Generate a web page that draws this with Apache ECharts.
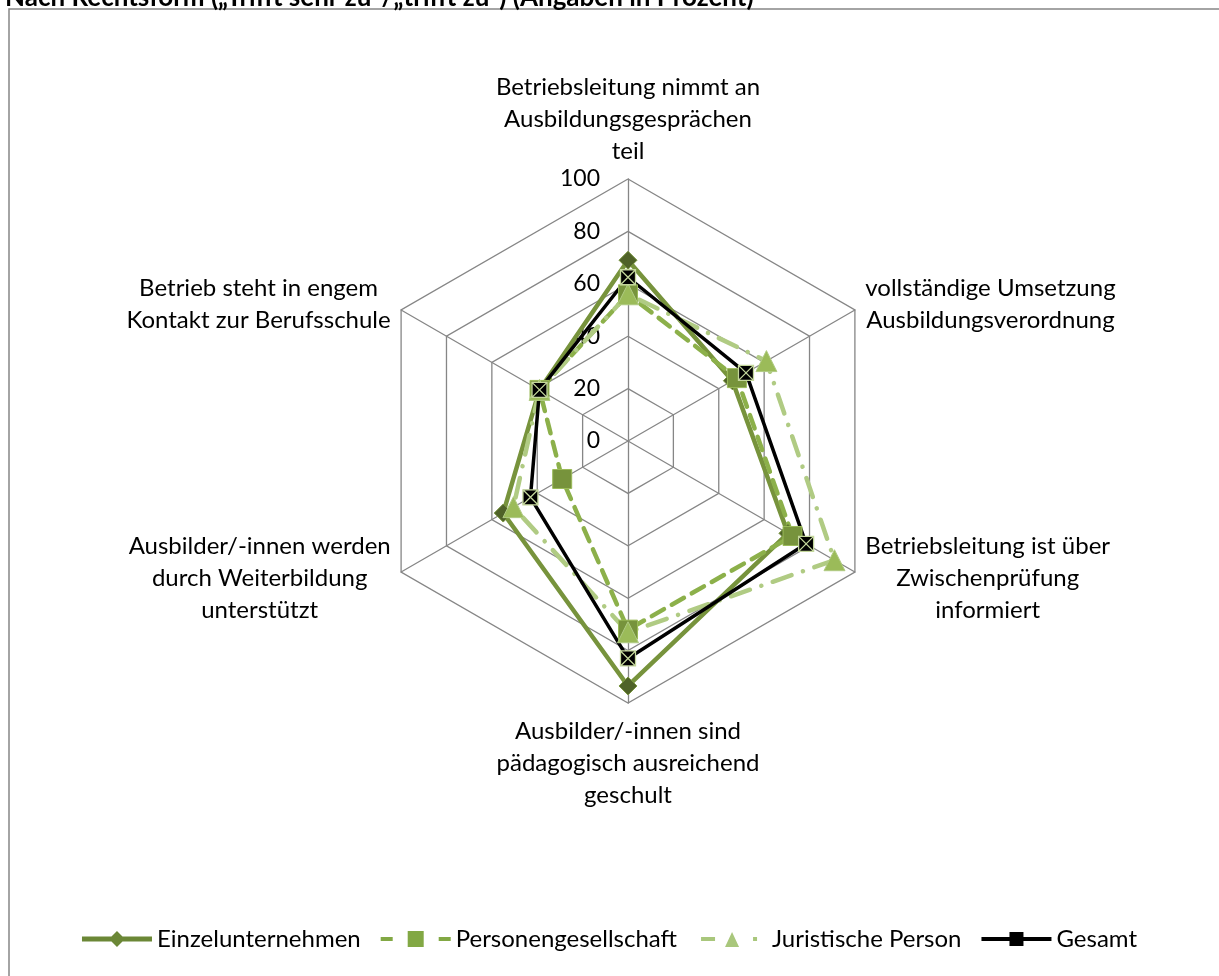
<!DOCTYPE html>
<html><head><meta charset="utf-8">
<script src="https://cdn.jsdelivr.net/npm/echarts@6/dist/echarts.min.js"></script>
<style>html,body{margin:0;padding:0;background:#fff}#c{width:1219px;height:976px}</style>
</head><body><div id="c"></div>
<script>
// Indicators (ECharts radar order: top, then counter-clockwise)
var categories = [
  'Betriebsleitung nimmt an\nAusbildungsgesprächen\nteil',
  'Betrieb steht in engem\nKontakt zur Berufsschule',
  'Ausbilder/-innen werden\ndurch Weiterbildung\nunterstützt',
  'Ausbilder/-innen sind\npädagogisch ausreichend\ngeschult',
  'Betriebsleitung ist über\nZwischenprüfung\ninformiert',
  'vollständige Umsetzung\nAusbildungsverordnung'
];
var seriesNames = ['Einzelunternehmen', 'Personengesellschaft', 'Juristische Person', 'Gesamt'];
var einzelunternehmen    = [69, 39, 55, 93.5, 70.5, 46];
var personengesellschaft = [56, 39, 29, 72, 72.5, 48];
var juristischePerson    = [56, 39, 50.5, 73, 91, 61];
var gesamt               = [62.5, 39, 43, 83, 78.5, 52];
var axisMax = 100;
var titleText = 'Nach Rechtsform („Trifft sehr zu“/„trifft zu“) (Angaben in Prozent)';

var FONT = 'Lato';
var chart = echarts.init(document.getElementById('c'));
var indicators = categories.map(function (n, i) {
  var o = { name: n, min: 0, max: axisMax };
  if (i === 0) o.axisLabel = { show: true };
  return o;
});
var gesamtSymbol = 'path://M0,0L10,0L10,10L0,10Z M0,0L10,10 M10,0L0,10';

// legend icons (line + marker), drawn in a 70x16 box
var iconEinzel = 'path://M0,5.5L70,5.5L70,10.5L0,10.5Z M35,0L43,8L35,16L27,8Z';
var iconPersonen = 'path://M0,6L12,6L12,10L0,10Z M27,0L43,0L43,16L27,16Z M58,6L70,6L70,10L58,10Z';
var iconJur = 'path://M0,0.01L0.01,0.01L0.01,0.02L0,0.02Z M4,6L18,6L18,10L4,10Z M35,1L42,16L28,16Z M56,6L60,6L60,10L56,10Z M69.99,15.98L70,15.98L70,16L69.99,16Z';
var iconGesamt = 'path://M0,6L70,6L70,10L0,10Z M28,1L42,1L42,15L28,15Z M0,0.01L0.01,0.01L0.01,0.02L0,0.02Z M69.99,15.98L70,15.98L70,16L69.99,16Z';

chart.setOption({
  animation: false,
  title: {
    text: titleText, left: 0, top: -20,
    textStyle: { fontFamily: FONT, fontWeight: 'bold', fontSize: 26, color: '#000' }
  },
  graphic: [{
    type: 'rect', shape: { x: 9, y: 9, width: 1300, height: 1100 },
    style: { fill: 'none', stroke: '#868686', lineWidth: 1.5 }, silent: true
  }],
  legend: {
    bottom: 20, left: 'center', itemWidth: 70, itemHeight: 16, itemGap: 20,
    textStyle: { fontFamily: FONT, fontSize: 24, color: '#000' },
    data: [
      { name: seriesNames[0], icon: iconEinzel, itemStyle: { color: '#6B8736', borderWidth: 0 } },
      { name: seriesNames[1], icon: iconPersonen, itemStyle: { color: '#82A844', borderWidth: 0 } },
      { name: seriesNames[2], icon: iconJur, itemStyle: { color: '#A9C77C', borderWidth: 0 } },
      { name: seriesNames[3], icon: iconGesamt, itemStyle: { color: '#000', borderWidth: 0 } }
    ]
  },
  radar: {
    center: [628, 441], radius: 262, shape: 'polygon', splitNumber: 5,
    indicator: indicators,
    nameGap: 12,
    axisName: {
      color: '#000', fontFamily: FONT, fontSize: 24,
      formatter: function (v) {
        return v.split('\n').map(function (l) { return '{c|' + l + '}'; }).join('\n');
      },
      rich: { c: { align: 'center', fontFamily: FONT, fontSize: 24, lineHeight: 32, color: '#000' } }
    },
    axisLine: { lineStyle: { color: '#868686', width: 1.3 } },
    splitLine: { lineStyle: { color: '#868686', width: 1.3 } },
    splitArea: { show: false },
    axisTick: { show: false },
    axisLabel: { show: false, color: '#000', fontFamily: FONT, fontSize: 23, margin: 28, showMinLabel: true }
  },
  series: [{
    type: 'radar',
    data: [
      {
        name: seriesNames[0], value: einzelunternehmen,
        symbol: 'diamond', symbolSize: 18,
        lineStyle: { color: '#77933C', width: 4.5 },
        itemStyle: { color: '#4F6228', borderColor: '#77933C', borderWidth: 1 }
      },
      {
        name: seriesNames[1], value: personengesellschaft,
        symbol: 'rect', symbolSize: 19,
        lineStyle: { color: '#8CB04A', width: 4.5, type: [14, 9], cap: 'round' },
        itemStyle: { color: '#77933C', borderColor: '#9BBB59', borderWidth: 1 }
      },
      {
        name: seriesNames[2], value: juristischePerson,
        symbol: 'triangle', symbolSize: 21,
        lineStyle: { color: '#B0CB83', width: 4.5, type: [20, 12, 0.1, 12], cap: 'round' },
        itemStyle: { color: '#9BBB59', borderColor: '#B0CB83', borderWidth: 1 }
      },
      {
        name: seriesNames[3], value: gesamt,
        symbol: gesamtSymbol, symbolSize: 15, symbolKeepAspect: true,
        lineStyle: { color: '#000', width: 3.5 },
        itemStyle: { color: '#000', borderColor: '#C3D69B', borderWidth: 1.3 }
      }
    ]
  }]
});
</script></body></html>
